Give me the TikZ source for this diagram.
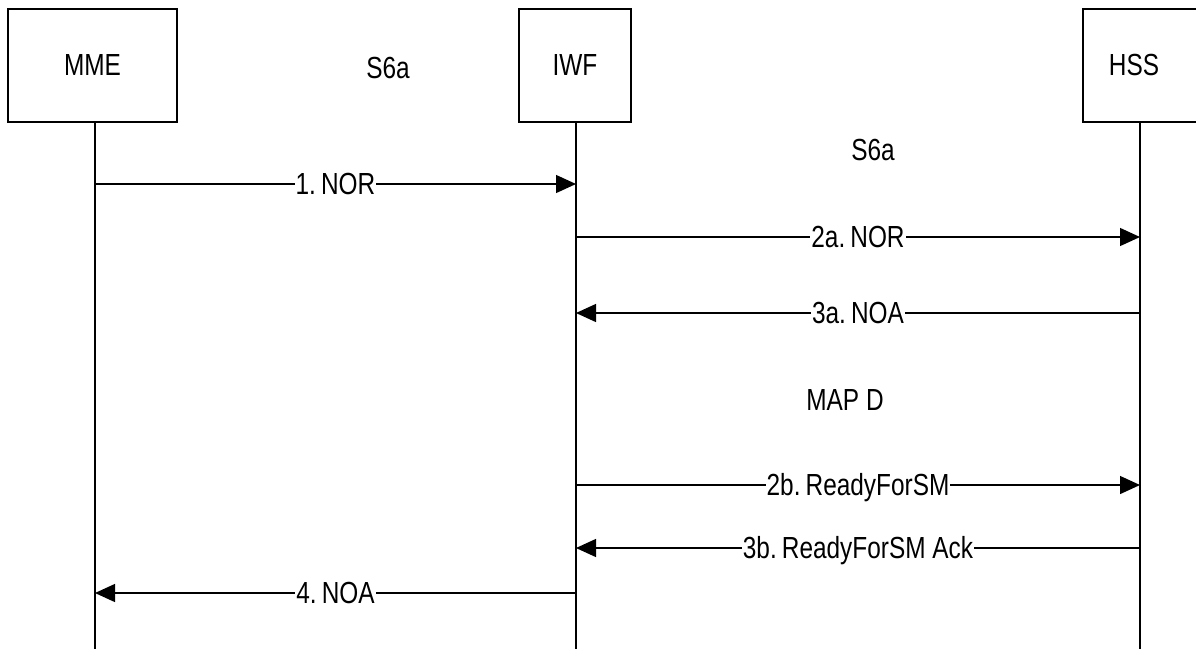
\documentclass[tikz,border=0pt]{standalone}
\usepackage{fontspec}
\setmainfont{Liberation Sans}[FakeStretch=0.8]
\usetikzlibrary{arrows.meta}
\begin{document}
\begin{tikzpicture}[x=1pt,y=-1pt,
  fnt/.style={font=\fontsize{30.5}{36}\selectfont},
  box/.style={draw, line width=1.3pt, inner sep=0pt, fnt},
  life/.style={line width=1.3pt},
  msg/.style={line width=1.3pt, -{Triangle[length=20pt,width=18pt]}},
  lbl/.style={fnt, fill=white, inner sep=1pt, text height=21.5pt, text depth=0pt},
  txt/.style={fnt, inner sep=0pt, anchor=base}]
\useasboundingbox (0,0) rectangle (1196,649);
% boxes
\node[box, minimum width=169pt, minimum height=113pt] (mme) at (92.5,65.5) {};
\node[txt] (mmel) at (92.5,75) {MME};
\node[box, minimum width=112pt, minimum height=113pt] (iwf) at (575,65.5) {};
\node[txt] (iwfl) at (575,75) {IWF};
\node[box, minimum width=116pt, minimum height=113pt] (hss) at (1141,65.5) {};
\node[txt] (hssl) at (1134,75) {HSS};
% interface labels
\node[txt] (s6a1) at (388,78) {S6a};
\node[txt] (s6a2) at (873,160) {S6a};
\node[txt] (mapd) at (845,410) {MAP D};
% lifelines
\coordinate (mmeT) at (95,122);
\coordinate (mmeB) at (95,649);
\coordinate (iwfT) at (576,122);
\coordinate (iwfB) at (576,649);
\coordinate (hssT) at (1140,122);
\coordinate (hssB) at (1140,649);
\draw[life] (mmeT) -- (mmeB);
\draw[life] (iwfT) -- (iwfB);
\draw[life] (hssT) -- (hssB);
% messages
\coordinate (m1a) at (95,184);  \coordinate (m1b) at (576,184);
\coordinate (m2a) at (576,237); \coordinate (m2b) at (1140,237);
\coordinate (m3a) at (1140,313); \coordinate (m3b) at (576,313);
\coordinate (m4a) at (576,485); \coordinate (m4b) at (1140,485);
\coordinate (m5a) at (1140,548); \coordinate (m5b) at (576,548);
\coordinate (m6a) at (576,593); \coordinate (m6b) at (95,593);
\draw[msg] (m1a) -- node[lbl] (l1) {1.\,NOR} (m1b);
\draw[msg] (m2a) -- node[lbl] (l2) {2a.\,NOR} (m2b);
\draw[msg] (m3a) -- node[lbl] (l3) {3a.\,NOA} (m3b);
\draw[msg] (m4a) -- node[lbl] (l4) {2b.\,ReadyForSM} (m4b);
\draw[msg] (m5a) -- node[lbl] (l5) {3b.\,ReadyForSM Ack} (m5b);
\draw[msg] (m6a) -- node[lbl] (l6) {4.\,NOA} (m6b);
\end{tikzpicture}
\end{document}
